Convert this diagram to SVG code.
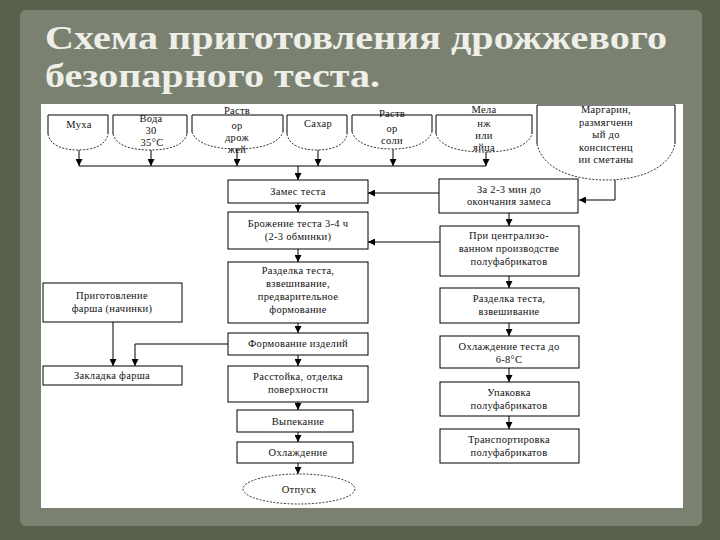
<svg xmlns="http://www.w3.org/2000/svg" width="720" height="540" viewBox="0 0 720 540">
<defs>
<marker id="ah" viewBox="0 0 10 10" refX="10" refY="5" markerWidth="7" markerHeight="7" markerUnits="userSpaceOnUse" orient="auto">
<path d="M0,0 L10,5 L0,10 Z" fill="#000"/>
</marker>
</defs>
<style>
.t{font-family:"Liberation Serif","DejaVu Serif",serif;font-size:10.5px;fill:#111;text-anchor:middle;letter-spacing:0.3px}
.title{font-family:"Liberation Serif","DejaVu Serif",serif;font-size:34px;font-weight:bold;fill:#efefe9}
.box{fill:#fff;stroke:#000;stroke-width:1}
.side{fill:none;stroke:#000;stroke-width:1}
.dash{fill:none;stroke:#000;stroke-width:0.8;stroke-dasharray:2 1.5}
.c{fill:none;stroke:#000;stroke-width:1}
.a{fill:none;stroke:#000;stroke-width:1;marker-end:url(#ah)}
</style>
<rect x="0" y="0" width="720" height="540" fill="#58614c"/>
<rect x="20" y="10" width="682" height="516" rx="6" fill="#7a8170"/>
<rect x="41" y="104" width="642" height="404" fill="#fff"/>
<text class="title" x="45" y="49" textLength="622" lengthAdjust="spacingAndGlyphs">Схема приготовления дрожжевого</text>
<text class="title" x="45" y="87" textLength="335" lengthAdjust="spacingAndGlyphs">безопарного теста.</text>

<g id="muka">
<path class="side" d="M48,134 V115 H108 V134"/>
<path class="dash" d="M48,134 C50,146 64,150 78,150 C92,150 106,146 108,134"/>
<text class="t" x="79" y="128">Муха</text>
</g>
<g id="voda">
<path class="side" d="M113,134 V115 H187 V134"/>
<path class="dash" d="M113,134 C116,146 132,150 150,150 C168,150 184,146 187,134"/>
<text class="t" x="151" y="122">Вода</text>
<text class="t" x="151" y="134">30</text>
<text class="t" x="152" y="146">35°С</text>
</g>
<g id="drozhzhi">
<path class="side" d="M192,132 V115 H283 V132"/>
<path class="dash" d="M192,132 C196,144 215,149 237,149 C259,149 279,144 283,132"/>
<text class="t" x="237" y="114">Раств</text>
<text class="t" x="237" y="129">ор</text>
<text class="t" x="237" y="141">дрож</text>
<text class="t" x="237" y="153">жей</text>
</g>
<g id="sahar">
<path class="side" d="M287,134 V115 H347 V134"/>
<path class="dash" d="M287,134 C289,146 303,150 317,150 C331,150 345,146 347,134"/>
<text class="t" x="318" y="127">Сахар</text>
</g>
<g id="sol">
<path class="side" d="M352,132 V115 H432 V132"/>
<path class="dash" d="M352,132 C356,144 373,149 392,149 C411,149 428,144 432,132"/>
<text class="t" x="392" y="117">Раств</text>
<text class="t" x="392" y="132">ор</text>
<text class="t" x="392" y="144">соли</text>
</g>
<g id="melanzh">
<path class="side" d="M436,134 V115 H532 V134"/>
<path class="dash" d="M436,134 C440,147 460,152 484,152 C508,152 528,147 532,134"/>
<text class="t" x="484" y="113">Мела</text>
<text class="t" x="484" y="127">нж</text>
<text class="t" x="484" y="139">или</text>
<text class="t" x="484" y="151">яйца</text>
</g>
<g id="margarin">
<path class="side" d="M537,144 V105 H675 V144"/>
<path class="dash" d="M537,144 C543,170 575,180 606,180 C637,180 669,170 675,144"/>
<text class="t" x="606" y="113">Маргарин,</text>
<text class="t" x="606" y="126">размягченн</text>
<text class="t" x="606" y="138">ый до</text>
<text class="t" x="606" y="151">консистенц</text>
<text class="t" x="606" y="163">ии сметаны</text>
</g>

<g id="zames">
<rect class="box" x="228" y="180" width="140" height="23"/>
<text class="t" x="298" y="195">Замес теста</text>
</g>
<g id="brozhenie">
<rect class="box" x="228" y="212" width="140" height="37"/>
<text class="t" x="298" y="227">Брожение теста 3-4 ч</text>
<text class="t" x="298" y="240">(2-3 обминки)</text>
</g>
<g id="razdelka1">
<rect class="box" x="228" y="262" width="140" height="61"/>
<text class="t" x="298" y="274">Разделка теста,</text>
<text class="t" x="298" y="287">взвешивание,</text>
<text class="t" x="298" y="300">предварительное</text>
<text class="t" x="298" y="313">формование</text>
</g>
<g id="formovanie">
<rect class="box" x="228" y="333" width="140" height="22"/>
<text class="t" x="298" y="347">Формование изделий</text>
</g>
<g id="rasstoyka">
<rect class="box" x="228" y="366" width="140" height="36"/>
<text class="t" x="298" y="380">Расстойка, отделка</text>
<text class="t" x="298" y="393">поверхности</text>
</g>
<g id="vypekanie">
<rect class="box" x="237" y="410" width="116" height="22"/>
<text class="t" x="298" y="425">Выпекание</text>
</g>
<g id="ohlazhdenie">
<rect class="box" x="237" y="442" width="116" height="21"/>
<text class="t" x="298" y="456">Охлаждение</text>
</g>
<g id="otpusk">
<ellipse cx="299" cy="489" rx="56" ry="15" fill="#fff" stroke="#000" stroke-width="0.8" stroke-dasharray="2 1.5"/>
<text class="t" x="299" y="493">Отпуск</text>
</g>

<g id="farsh">
<rect class="box" x="43" y="283" width="139" height="39"/>
<text class="t" x="112" y="299">Приготовление</text>
<text class="t" x="112" y="312">фарша (начинки)</text>
</g>
<g id="zakladka">
<rect class="box" x="43" y="366" width="139" height="19"/>
<text class="t" x="112" y="379">Закладка фарша</text>
</g>

<g id="za23">
<rect class="box" x="439" y="179" width="139" height="34"/>
<text class="t" x="509" y="193">За 2-3 мин до</text>
<text class="t" x="509" y="205">окончания замеса</text>
</g>
<g id="central">
<rect class="box" x="440" y="226" width="139" height="50"/>
<text class="t" x="509" y="239">При централизо-</text>
<text class="t" x="509" y="252">ванном производстве</text>
<text class="t" x="509" y="265">полуфабрикатов</text>
</g>
<g id="razdelka2">
<rect class="box" x="440" y="288" width="139" height="35"/>
<text class="t" x="509" y="302">Разделка теста,</text>
<text class="t" x="509" y="315">взвешивание</text>
</g>
<g id="ohl_testa">
<rect class="box" x="440" y="336" width="139" height="32"/>
<text class="t" x="509" y="350">Охлаждение теста до</text>
<text class="t" x="509" y="363">6-8°С</text>
</g>
<g id="upakovka">
<rect class="box" x="440" y="382" width="139" height="34"/>
<text class="t" x="509" y="396">Упаковка</text>
<text class="t" x="509" y="409">полуфабрикатов</text>
</g>
<g id="transport">
<rect class="box" x="440" y="429" width="139" height="34"/>
<text class="t" x="509" y="443">Транспортировка</text>
<text class="t" x="509" y="456">полуфабрикатов</text>
</g>

<g id="connectors">
<path class="a" d="M79,150 V166"/>
<path class="a" d="M151,150 V166"/>
<path class="a" d="M237,149 V166"/>
<path class="a" d="M318,150 V166"/>
<path class="a" d="M393,149 V166"/>
<path class="a" d="M486,152 V166"/>
<path class="c" d="M79,166 H486"/>
<path class="a" d="M298,166 V180"/>
<path class="a" d="M615,180 V200 H579"/>
<path class="a" d="M439,193 H368"/>
<path class="a" d="M440,242 H368"/>
<path class="a" d="M509,213 V226"/>
<path class="a" d="M509,276 V288"/>
<path class="a" d="M509,323 V336"/>
<path class="a" d="M509,368 V382"/>
<path class="a" d="M509,416 V429"/>
<path class="a" d="M298,203 V212"/>
<path class="a" d="M298,249 V262"/>
<path class="a" d="M298,323 V333"/>
<path class="a" d="M298,355 V366"/>
<path class="a" d="M298,402 V410"/>
<path class="a" d="M298,432 V442"/>
<path class="a" d="M298,463 V474"/>
<path class="a" d="M113,322 V366"/>
<path class="a" d="M228,344 H135 V366"/>
</g>
</svg>
